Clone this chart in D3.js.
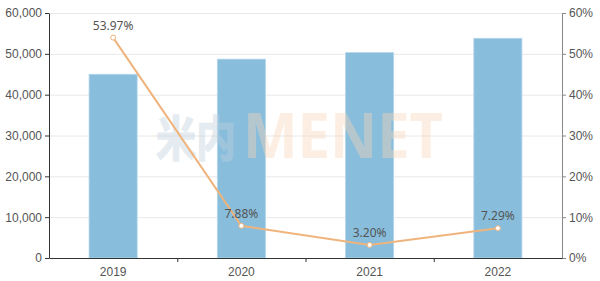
<!DOCTYPE html>
<html>
<head>
<meta charset="utf-8">
<script src="https://cdn.jsdelivr.net/npm/d3@7"></script>
<style>
    body { margin: 0; background: #fff; }
    svg { display: block; font-family: "Noto Sans", sans-serif; }
</style>
</head>
<body>
<div id="chart"></div>
<script>
// data
const years = ["2019", "2020", "2021", "2022"];
const volume = [45000, 48700, 50300, 53800];
const growth = [53.97, 7.88, 3.20, 7.29];
const leftTicks = [0, 10000, 20000, 30000, 40000, 50000, 60000];
const rightTicks = [0, 10, 20, 30, 40, 50, 60];

function barchart() {
    const w = 600, h = 281;
    const left = 49, right = 562, top = 13, bottom = 258;

    const svg = d3.select("#chart").append("svg")
        .attr("width", w)
        .attr("height", h);

    const xScale = d3.scaleBand()
        .domain(years)
        .range([left, right]);

    const yScale = d3.scaleLinear()
        .domain([0, 60000])
        .range([bottom, top]);

    const y2Scale = d3.scaleLinear()
        .domain([0, 60])
        .range([bottom, top]);

    // grid lines
    svg.append("g")
        .selectAll("line")
        .data(leftTicks.slice(1))
        .enter()
        .append("line")
        .attr("x1", left)
        .attr("x2", right)
        .attr("y1", d => yScale(d) + 0.5)
        .attr("y2", d => yScale(d) + 0.5)
        .attr("stroke", "#e8e8e8");

    // bars
    const barW = xScale.bandwidth() * 0.375;
    svg.append("g")
        .selectAll("rect")
        .data(years)
        .enter()
        .append("rect")
        .attr("x", (d) => xScale(d) + xScale.bandwidth() / 2 - barW / 2)
        .attr("y", (d, i) => yScale(volume[i]))
        .attr("width", barW)
        .attr("height", (d, i) => bottom - yScale(volume[i]))
        .attr("fill", "#88bedc")
        .attr("stroke", "#b4d6ea")
        .attr("stroke-width", 0.8);

    // watermark (over the bars, under the line), one text so nothing overlaps
    const wm = svg.append("text")
        .attr("x", 156)
        .attr("y", 156)
        .attr("opacity", 0.4)
        .style("font-weight", "bold");
    wm.append("tspan")
        .attr("fill", "#c0d1de")
        .attr("stroke", "#c0d1de")
        .attr("stroke-width", 1.5)
        .attr("textLength", 80)
        .attr("lengthAdjust", "spacingAndGlyphs")
        .style("font-size", "48px")
        .style("font-family", "'Noto Sans CJK SC', sans-serif")
        .text("米内");
    wm.append("tspan")
        .attr("x", 243)
        .attr("y", 158)
        .attr("fill", "#f9d6b8")
        .attr("textLength", 200)
        .attr("lengthAdjust", "spacingAndGlyphs")
        .style("font-size", "62px")
        .style("font-family", "'Noto Sans', sans-serif")
        .text("MENET");

    // growth line
    const line = d3.line()
        .x((d, i) => xScale(years[i]) + xScale.bandwidth() / 2)
        .y(d => y2Scale(d));

    svg.append("path")
        .datum(growth)
        .attr("d", line)
        .attr("fill", "none")
        .attr("stroke", "#efb37c")
        .attr("stroke-width", 2);

    svg.append("g")
        .selectAll("circle")
        .data(growth)
        .enter()
        .append("circle")
        .attr("cx", (d, i) => xScale(years[i]) + xScale.bandwidth() / 2)
        .attr("cy", d => y2Scale(d))
        .attr("r", 2.5)
        .attr("fill", "#fff")
        .attr("stroke", "#efb37c")
        .attr("stroke-width", 1);

    svg.append("g")
        .selectAll("text")
        .data(growth)
        .enter()
        .append("text")
        .attr("x", (d, i) => xScale(years[i]) + xScale.bandwidth() / 2)
        .attr("y", d => y2Scale(d) - 8)
        .attr("text-anchor", "middle")
        .attr("fill", "#555")
        .style("font-size", "12px")
        .text(d => d.toFixed(2) + "%");

    // left axis
    const yAxis = svg.append("g")
        .attr("transform", `translate(${left},0)`)
        .call(d3.axisLeft(yScale).tickValues(leftTicks).tickSize(4).tickSizeOuter(0).tickFormat(d3.format(",")));
    yAxis.selectAll("path, line").attr("stroke", "#333");
    yAxis.selectAll("text").attr("fill", "#555").style("font-size", "12px");

    // right axis
    const y2Axis = svg.append("g")
        .attr("transform", `translate(${right},0)`)
        .call(d3.axisRight(y2Scale).tickValues(rightTicks).tickSize(4).tickSizeOuter(0).tickFormat(d => d + "%"));
    y2Axis.selectAll("path, line").attr("stroke", "#888");
    y2Axis.selectAll("text").attr("fill", "#555").style("font-size", "12px");

    // bottom axis with ticks on category boundaries
    const xAxis = svg.append("g")
        .attr("transform", `translate(0,${bottom})`)
        .call(d3.axisBottom(xScale).tickSize(0).tickPadding(9));
    xAxis.select("path").attr("stroke", "#333");
    xAxis.selectAll("text").attr("fill", "#555").style("font-size", "12px");
    xAxis.selectAll(".sep")
        .data(years.slice(1))
        .enter()
        .append("line")
        .attr("x1", d => xScale(d) + 0.5)
        .attr("x2", d => xScale(d) + 0.5)
        .attr("y1", 0)
        .attr("y2", 4)
        .attr("stroke", "#333");
}

barchart();
</script>
</body>
</html>
